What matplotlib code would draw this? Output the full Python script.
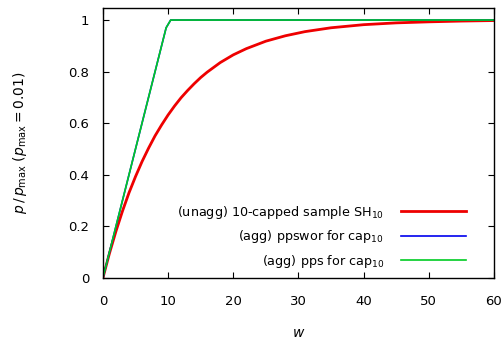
import matplotlib
matplotlib.use("Agg")
import matplotlib.pyplot as plt

plt.rcParams["mathtext.fontset"] = "dejavusans"
plt.rcParams["font.size"] = 9.5

# red: unaggregated 10-capped sample SH_10
w_sh = [0, 1, 2, 3, 4, 5, 6, 7, 8, 9, 10, 11, 12, 13, 14, 15, 16, 18, 20, 22,
        25, 28, 31, 35, 40, 45, 50, 55, 60]
p_sh = [0, 0.095, 0.181, 0.259, 0.33, 0.393, 0.451, 0.503, 0.551, 0.593, 0.632,
        0.667, 0.699, 0.727, 0.753, 0.777, 0.798, 0.835, 0.865, 0.889, 0.918,
        0.939, 0.955, 0.970, 0.982, 0.989, 0.993, 0.996, 0.998]

# blue / green: aggregated ppswor and pps for cap_10
w_agg = [0, 9.7, 10.4, 60]
p_ppswor = [0, 0.97, 1.0, 1.0]
p_pps = [0, 0.97, 1.0, 1.0]

fig = plt.figure(figsize=(5.02, 3.44), dpi=100)
ax = fig.add_axes([0.205, 0.192, 0.779, 0.785])

ax.plot(w_sh, p_sh, color="#ee0000", lw=2.0,
        label=r"(unagg) 10-capped sample SH$_{10}$")
ax.plot(w_agg, p_ppswor, color="#0000ee", lw=1.2,
        label=r"(agg) ppswor for cap$_{10}$")
ax.plot(w_agg, p_pps, color="#00cc22", lw=1.2,
        label=r"(agg) pps for cap$_{10}$")

ax.set_xlim(0, 60)
ax.set_ylim(0, 1.047)
ax.set_xticks([0, 10, 20, 30, 40, 50, 60])
ax.set_yticks([0, 0.2, 0.4, 0.6, 0.8, 1])
ax.set_yticklabels(["0", "0.2", "0.4", "0.6", "0.8", "1"])
ax.tick_params(direction="in", top=True, right=True, length=4, width=0.8)
ax.tick_params(axis="x", pad=12)
ax.tick_params(axis="y", pad=10)
for s in ax.spines.values():
    s.set_linewidth(1.0)

ax.set_xlabel(r"$w$", fontsize=10, labelpad=13)
ax.set_ylabel(r"$p\,/\,p_{\mathrm{max}}$ ($p_{\mathrm{max}} = 0.01$)",
              fontsize=10, labelpad=28)

leg = ax.legend(loc="lower right", markerfirst=False, frameon=False,
                alignment="right", fontsize=9.2, handlelength=5.1,
                handletextpad=1.3, labelspacing=0.6, borderaxespad=0.5,
                bbox_to_anchor=(0.958, -0.013))

fig.savefig("out.png", dpi=100)
plt.close(fig)
